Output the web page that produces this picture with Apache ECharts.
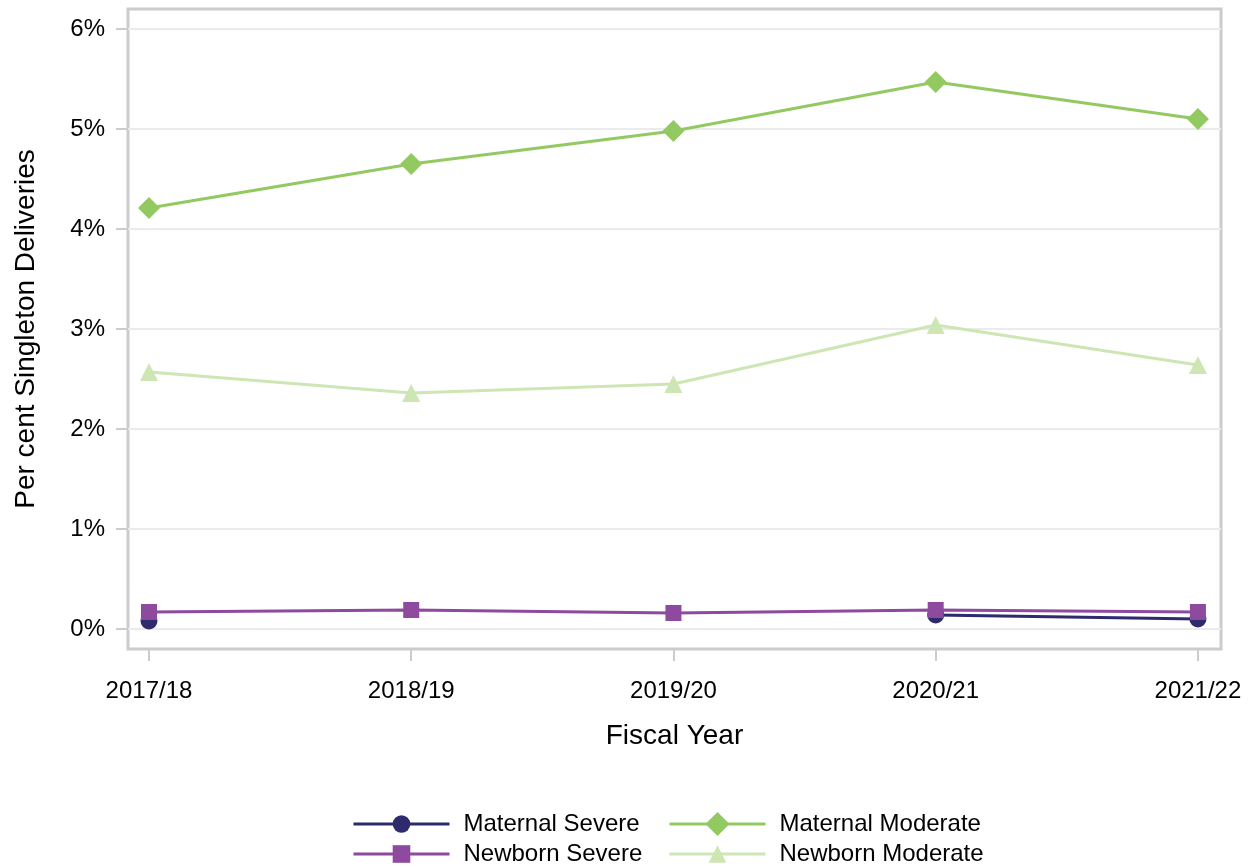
<!DOCTYPE html>
<html>
<head>
<meta charset="utf-8">
<script src="https://cdn.jsdelivr.net/npm/echarts@6/dist/echarts.min.js"></script>
<style>html,body{margin:0;padding:0;background:#fff}#c{width:1251px;height:867px}</style>
</head>
<body>
<div id="c"></div>
<script>
const categories = ['2017/18', '2018/19', '2019/20', '2020/21', '2021/22'];
const maternalSevere = [0.08, null, null, 0.14, 0.10];
const newbornSevere = [0.17, 0.19, 0.16, 0.19, 0.17];
const maternalModerate = [4.21, 4.65, 4.98, 5.47, 5.10];
const newbornModerate = [2.57, 2.36, 2.45, 3.04, 2.64];
const yTicks = [0, 1, 2, 3, 4, 5, 6];
const xTicks = [0, 1, 2, 3, 4];

const FONT = 'Liberation Sans, Arial, sans-serif';
const toPts = arr => arr.map((v, i) => [i, v]);

const chart = echarts.init(document.getElementById('c'), null, {renderer: 'canvas'});

function mkSeries(name, data, color, symbol, size) {
  return {
    name, type: 'line', data: toPts(data), symbol, symbolSize: size,
    showAllSymbol: true, connectNulls: false,
    lineStyle: {color, width: 3}, itemStyle: {color},
    emphasis: {disabled: true}, animation: false
  };
}

function mkLegend(name, left, top, h) {
  return {
    data: [name], left, top, itemWidth: 96, itemHeight: h, itemGap: 0,
    lineStyle: {width: 3},
    textStyle: {fontFamily: FONT, fontSize: 24, color: '#000', padding: [0, 0, 0, 9]},
    padding: 0
  };
}

chart.setOption({
  animation: false,
  grid: {left: 128, right: 30, top: 9, bottom: 218, show: true,
         borderColor: '#cccccc', borderWidth: 3, outerBoundsMode: 'none', containLabel: false},
  xAxis: {
    type: 'value', min: -0.08, max: 4.088,
    axisLine: {show: false, onZero: false},
    axisTick: {show: true, length: 12, inside: false, lineStyle: {color: '#cccccc', width: 2}, customValues: xTicks},
    axisLabel: {customValues: xTicks, formatter: v => categories[Math.round(v)],
                fontFamily: FONT, fontSize: 24, color: '#000', margin: 30},
    splitLine: {show: false},
    name: 'Fiscal Year', nameLocation: 'middle', nameGap: 73,
    nameTextStyle: {fontFamily: FONT, fontSize: 28, color: '#000'}
  },
  yAxis: {
    type: 'value', min: -0.2, max: 6.2,
    axisLine: {show: false, onZero: false},
    axisTick: {show: true, length: 12, inside: false, lineStyle: {color: '#cccccc', width: 2}, customValues: yTicks},
    axisLabel: {customValues: yTicks, formatter: v => Math.round(v) + '%',
                fontFamily: FONT, fontSize: 24, color: '#000', margin: 23},
    splitLine: {show: true, lineStyle: {color: '#ebebeb', width: 2}},
    name: 'Per cent Singleton Deliveries', nameLocation: 'middle', nameGap: 88,
    nameTextStyle: {fontFamily: FONT, fontSize: 28, color: '#000'}
  },
  legend: [
    mkLegend('Maternal Severe', 352, 812, 22),
    mkLegend('Maternal Moderate', 668, 812, 30),
    mkLegend('Newborn Severe', 352, 842, 22),
    mkLegend('Newborn Moderate', 668, 842, 22)
  ],
  series: [
    mkSeries('Maternal Severe', maternalSevere, '#2d2a6e', 'circle', 17),
    mkSeries('Newborn Severe', newbornSevere, '#8e4a9e', 'rect', 16),
    mkSeries('Maternal Moderate', maternalModerate, '#93c961', 'diamond', 22),
    mkSeries('Newborn Moderate', newbornModerate, '#cde6b4', 'triangle', 18)
  ]
});
</script>
</body>
</html>
